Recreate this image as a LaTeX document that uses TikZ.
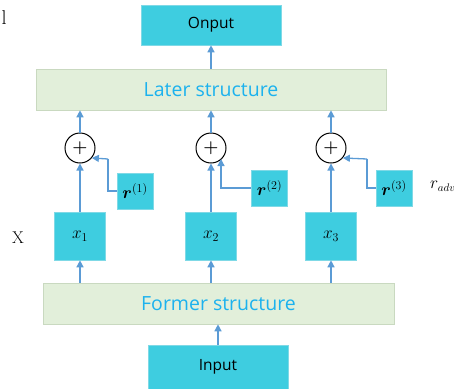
\documentclass[tikz,border=0pt]{standalone}
\usepackage{fontspec}
\usepackage{amsmath,bm}
\setsansfont{Open Sans}
\usetikzlibrary{arrows.meta,calc}
\definecolor{cyanbox}{HTML}{3ECDE0}
\definecolor{cyanedge}{HTML}{7FD9E6}
\definecolor{greenbox}{HTML}{E2EFDA}
\definecolor{greenedge}{HTML}{C9D9C0}
\definecolor{arr}{HTML}{5B9BD5}
\definecolor{bluetext}{HTML}{1CB2EE}
\begin{document}
\begin{tikzpicture}[x=1pt,y=-1pt,
  cbox/.style={draw=cyanedge,line width=0.6pt,fill=cyanbox,inner sep=0pt},
  gbox/.style={draw=greenedge,line width=0.6pt,fill=greenbox,inner sep=0pt},
  flow/.style={draw=arr,line width=1.3pt,-{Triangle[length=7pt,width=7pt]}},
  plus/.style={circle,draw=black,line width=1pt,minimum size=30pt,inner sep=0pt,fill=white},
  lbl/.style={font=\sffamily\fontsize{15.5}{18}\selectfont},
  glbl/.style={font=\sffamily\fontsize{19.5}{22}\selectfont,text=bluetext},
  mlbl/.style={font=\fontsize{17}{19}\selectfont}]
\useasboundingbox (0,0) rectangle (454,388);
% boxes
\node[cbox,minimum width=140pt,minimum height=40pt,lbl] (out) at (211,25) {Onput};
\node[gbox,minimum width=350pt,minimum height=41pt,glbl] (later) at (211,89.5) {Later structure};
\node[gbox,minimum width=351pt,minimum height=41pt,glbl] (former) at (218.5,303.5) {Former structure};
\node[cbox,minimum width=140pt,minimum height=44pt,lbl,anchor=north] (in) at (218,345) {\raisebox{-3pt}{Input}};
% x boxes
\node[cbox,minimum width=51pt,minimum height=48pt,mlbl] (x1) at (80,236) {$x_1$};
\node[cbox,minimum width=51pt,minimum height=48pt,mlbl] (x2) at (211,236) {$x_2$};
\node[cbox,minimum width=51pt,minimum height=48pt,mlbl] (x3) at (331,236) {$x_3$};
% r boxes
\node[cbox,minimum width=36pt,minimum height=36pt,mlbl] (r1) at (135,191) {$\bm{r}^{(1)}$};
\node[cbox,minimum width=36pt,minimum height=36pt,mlbl] (r2) at (269.5,188) {$\bm{r}^{(2)}$};
\node[cbox,minimum width=36pt,minimum height=36pt,mlbl] (r3) at (394,188) {$\bm{r}^{(3)}$};
% plus circles
\node[plus] (p1) at (80,148) {\LARGE$\bm{+}$};
\node[plus] (p2) at (211,148) {\LARGE$\bm{+}$};
\node[plus] (p3) at (331,148) {\LARGE$\bm{+}$};
% arrows
\draw[flow] (out.south |- later.north) -- (out.south);
\draw[flow] (p1.north) -- (p1.north |- later.south);
\draw[flow] (p2.north) -- (p2.north |- later.south);
\draw[flow] (p3.north) -- (p3.north |- later.south);
\draw[flow] (x1.north) -- (p1.south);
\draw[flow] (x2.north) -- (p2.south);
\draw[flow] (x3.north) -- (p3.south);
\draw[flow] (x1.south |- former.north) -- (x1.south);
\draw[flow] (x2.south |- former.north) -- (x2.south);
\draw[flow] (x3.south |- former.north) -- (x3.south);
\draw[flow] (in.north) -- (in.north |- former.south);
% residual connections
\coordinate (c1) at (108,159);
\coordinate (c2) at (221,188);
\coordinate (c3) at (367,159);
\draw[draw=arr,line width=1.3pt] (r1.west) -| (c1);
\draw[flow] (c1) -- (p1.-40);
\draw[flow] (r2.west) -- (c2) -- ($(p2.center)+(10,11)$);
\draw[draw=arr,line width=1.3pt] (r3.west) -| (c3);
\draw[flow] (c3) -- (p3.-40);
% side labels
\node[font=\fontsize{17}{19}\selectfont] (X) at (18,238) {X};
\node[font=\fontsize{16}{18}\selectfont,anchor=west,inner sep=0pt] (radv) at (430,186) {$r_{adv}$};
\node[font=\fontsize{20}{22}\selectfont,anchor=west] (ll) at (-2,18) {l};
\end{tikzpicture}
\end{document}
